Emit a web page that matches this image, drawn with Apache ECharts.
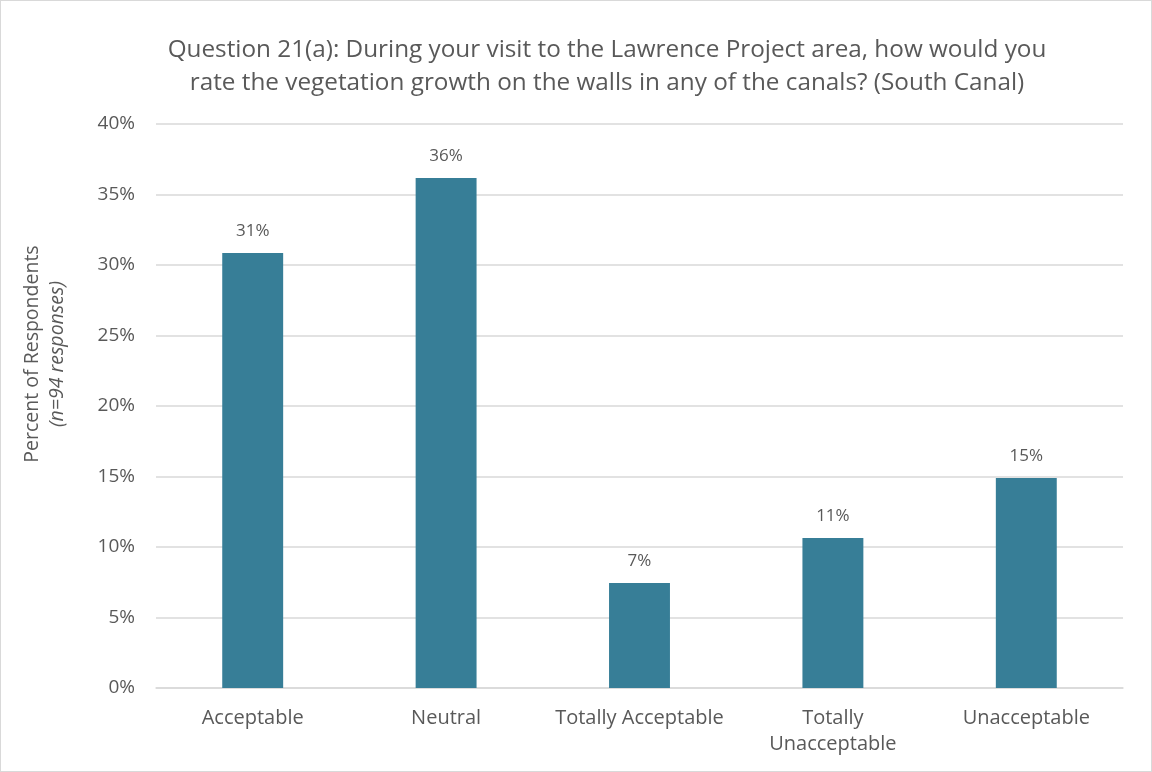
<!DOCTYPE html>
<html>
<head>
<meta charset="utf-8">
<script src="https://cdn.jsdelivr.net/npm/echarts@6/dist/echarts.min.js"></script>
<style>
html,body{margin:0;padding:0;background:#fff;}
#c{position:absolute;left:0;top:0;width:1150px;height:770px;border:1px solid #D9D9D9;}
</style>
</head>
<body>
<div id="c"></div>
<script>
const categories = ['Acceptable', 'Neutral', 'Totally Acceptable', 'Totally\nUnacceptable', 'Unacceptable'];
const percentValues = [30.85, 36.17, 7.45, 10.64, 14.89];
const yTicks = [0, 5, 10, 15, 20, 25, 30, 35, 40];
const titleLines = ['Question 21(a): During your visit to the Lawrence Project area, how would you', 'rate the vegetation growth on the walls in any of the canals? (South Canal)'];

const txt = '#595959';
const ff = 'Open Sans, Liberation Sans, sans-serif';
const chart = echarts.init(document.getElementById('c'), null, {renderer: 'canvas'});
chart.setOption({
  animation: false,
  textStyle: {fontFamily: ff},
  title: {
    text: titleLines.join('\n'),
    left: 601, top: 27, textAlign: 'center',
    textStyle: {fontSize: 24.3, fontWeight: 'normal', color: txt, lineHeight: 33.5, fontFamily: ff}
  },
  graphic: [{
    type: 'text', x: 44, y: 353, rotation: Math.PI / 2,
    style: {
      text: '{a|Percent of Respondents}\n{b|(n=94 responses)}',
      rich: {
        a: {fontSize: 19.5, fill: txt, fontFamily: ff, lineHeight: 25},
        b: {fontSize: 19.5, fill: txt, fontStyle: 'italic', fontFamily: ff, lineHeight: 25}
      },
      align: 'center', verticalAlign: 'middle'
    }
  }],
  grid: {left: 155, right: 28, top: 123, bottom: 83, containLabel: false},
  xAxis: {
    type: 'category', data: categories,
    axisLine: {show: true, lineStyle: {color: '#D9D9D9', width: 1.5}},
    axisTick: {show: false},
    axisLabel: {color: txt, fontSize: 20, margin: 17, lineHeight: 26, interval: 0, fontFamily: ff}
  },
  yAxis: {
    type: 'value', min: 0, max: 40, interval: 5,
    axisLine: {show: false}, axisTick: {show: false},
    splitLine: {lineStyle: {color: '#D9D9D9', width: 1.5}},
    axisLabel: {color: txt, fontSize: 19, margin: 21, formatter: v => yTicks.includes(v) ? v + '%' : '', fontFamily: ff}
  },
  series: [{
    type: 'bar', data: percentValues, barWidth: '31.5%',
    itemStyle: {color: '#377E97'},
    label: {show: true, position: 'top', distance: 13, color: txt, fontSize: 17,
      formatter: p => Math.round(p.value) + '%', fontFamily: ff}
  }]
});
</script>
</body>
</html>
